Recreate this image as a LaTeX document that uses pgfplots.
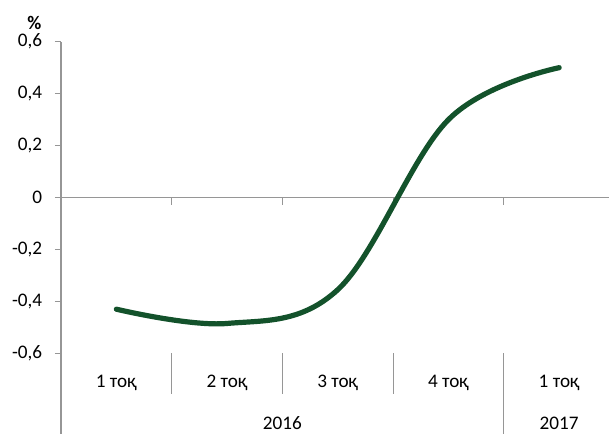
\documentclass[border=0pt]{standalone}
\usepackage{pgfplots}
\pgfplotsset{compat=1.18}
\usepackage{fontspec}
\setmainfont{Carlito}
\definecolor{linegreen}{HTML}{13522B}
\definecolor{axgray}{HTML}{969696}
\begin{document}
\fontsize{9.6bp}{11bp}\selectfont
\begin{tikzpicture}
\begin{axis}[
  name=ax,
  scale only axis,
  width=274bp, height=155.8bp,
  xmin=-0.5, xmax=4.45,
  ymin=-0.6, ymax=0.6,
  clip=false,
  axis x line=none,
  axis y line*=left,
  y axis line style={axgray, line width=0.6bp},
  ytick={-0.6,-0.4,-0.2,0,0.2,0.4,0.6},
  yticklabels={{-0,6},{-0,4},{-0,2},0,{0,2},{0,4},{0,6}},
  ytick style={axgray, line width=0.6bp},
  tick align=outside,
  major tick length=3bp,
  yticklabel style={font=\fontsize{9.6bp}{11bp}\selectfont, xshift=-3bp},
  xtick=\empty,
]
\draw[axgray, line width=0.6bp] (axis cs:-0.5,0) -- (axis cs:4.6,0);
\draw[axgray, line width=0.6bp] (axis cs:0.5,0) -- ++(0pt,-3.5bp);
\draw[axgray, line width=0.6bp] (axis cs:1.5,0) -- ++(0pt,-3.5bp);
\draw[axgray, line width=0.6bp] (axis cs:2.5,0) -- ++(0pt,-3.5bp);
\draw[axgray, line width=0.6bp] (axis cs:3.5,0) -- ++(0pt,-3.5bp);
\draw[axgray, line width=0.6bp] (axis cs:0.5,-0.6) -- ++(0pt,-20.5bp);
\draw[axgray, line width=0.6bp] (axis cs:1.5,-0.6) -- ++(0pt,-20.5bp);
\draw[axgray, line width=0.6bp] (axis cs:2.5,-0.6) -- ++(0pt,-20.5bp);
\draw[axgray, line width=0.6bp] (axis cs:3.5,-0.6) -- ++(0pt,-45bp);
\draw[axgray, line width=0.6bp] (axis cs:-0.5,-0.6) -- ++(0pt,-45bp);
\node at (axis cs:0,-0.6) [yshift=-14.85bp] {1 тоқ};
\node at (axis cs:1,-0.6) [yshift=-14.85bp] {2 тоқ};
\node at (axis cs:2,-0.6) [yshift=-14.85bp] {3 тоқ};
\node at (axis cs:3,-0.6) [yshift=-14.85bp] {4 тоқ};
\node at (axis cs:4,-0.6) [yshift=-14.85bp] {1 тоқ};
\node at (axis cs:1.5,-0.6) [yshift=-34.85bp] {2016};
\node at (axis cs:4,-0.6) [yshift=-34.85bp] {2017};
\node[anchor=east, inner sep=0pt] at ([xshift=-9.65bp, yshift=9.35bp]rel axis cs:0,1) {\textbf{\%}};
\addplot[linegreen, line width=2.6bp, smooth, tension=0.6, line cap=round] coordinates {
  (0,-0.43) (1,-0.485) (2,-0.355) (3,0.30) (4,0.50)
};
\end{axis}
\pgfresetboundingbox
\path[use as bounding box] ([xshift=-30.5bp,yshift=-39.85bp]ax.south west) rectangle ([yshift=20.85bp]ax.north east);
\end{tikzpicture}
\end{document}
